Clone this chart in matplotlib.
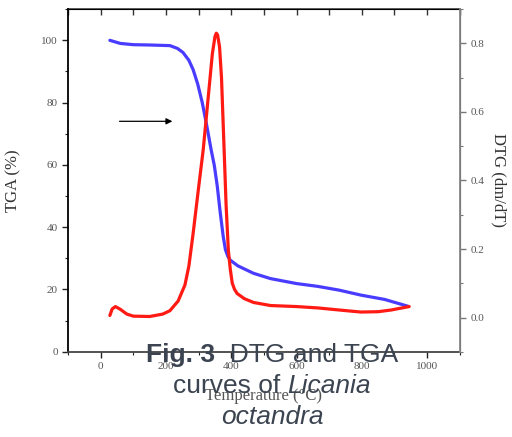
import matplotlib
matplotlib.use("Agg")
import matplotlib.pyplot as plt
from matplotlib.ticker import MultipleLocator, FormatStrFormatter

# TGA curve (left axis, %)
tga_temp = [28, 60, 100, 150, 212, 235, 252, 270, 283, 297, 311, 325, 338,
            348, 357, 366, 375, 382, 390, 397, 420, 468, 520, 600, 665, 730,
            797, 870, 942]
tga_mass = [100.0, 99.0, 98.6, 98.5, 98.3, 97.4, 96.1, 93.6, 90.6, 86.0,
            80.0, 72.5, 65.0, 59.8, 53.2, 44.8, 37.2, 32.8, 30.5, 29.4, 27.6,
            25.2, 23.5, 21.9, 21.0, 19.8, 18.2, 16.8, 14.6]

# DTG curve (right axis, dm/dT)
dtg_temp = [28, 35, 45, 60, 80, 100, 150, 190, 212, 237, 258, 270, 283, 298,
            314, 332, 342, 350, 354, 358, 364, 370, 378, 384, 391, 397, 403,
            410, 418, 440, 468, 520, 600, 665, 730, 797, 850, 890, 945]
dtg_vals = [0.006, 0.025, 0.032, 0.024, 0.010, 0.004, 0.003, 0.010, 0.020,
            0.048, 0.095, 0.150, 0.245, 0.365, 0.49, 0.67, 0.77, 0.82, 0.83,
            0.825, 0.79, 0.70, 0.49, 0.33, 0.196, 0.14, 0.100, 0.082, 0.070,
            0.055, 0.044, 0.035, 0.032, 0.028, 0.022, 0.016, 0.017, 0.022,
            0.032]

arrow_start = (49, 74)
arrow_end = (228, 74)

serif = "Liberation Serif"
tick_col = "#555555"

fig = plt.figure(figsize=(5.12, 4.37), dpi=100)
ax = fig.add_axes([0.133, 0.195, 0.765, 0.784])
ax2 = ax.twinx()

ax.plot(tga_temp, tga_mass, color="#4a3cff", lw=2.3, solid_capstyle="round")
ax2.plot(dtg_temp, dtg_vals, color="#ff1a14", lw=2.3, solid_capstyle="round")

ax.annotate("", xy=arrow_end, xytext=arrow_start,
            arrowprops=dict(arrowstyle="-|>", color="black", lw=0.9,
                            mutation_scale=9))

ax.set_xlim(-100, 1100)
ax.set_ylim(0, 110)
ax2.set_ylim(-0.1, 0.9)

ax.xaxis.set_major_locator(MultipleLocator(200))
ax.xaxis.set_minor_locator(MultipleLocator(100))
ax.yaxis.set_major_locator(MultipleLocator(20))
ax.yaxis.set_minor_locator(MultipleLocator(10))
ax2.yaxis.set_major_locator(MultipleLocator(0.2))
ax2.yaxis.set_minor_locator(MultipleLocator(0.1))
ax2.yaxis.set_major_formatter(FormatStrFormatter("%.1f"))

ax.tick_params(which="both", direction="out", colors="#222222",
               labelcolor=tick_col, labelsize=8)
ax.tick_params(which="major", length=4, width=1)
ax.tick_params(which="minor", length=2.5, width=0.8)
ax2.tick_params(which="both", direction="out", colors="#777777",
                labelcolor=tick_col, labelsize=8)
ax2.tick_params(which="major", length=4, width=1)
ax2.tick_params(which="minor", length=2.5, width=0.8)

# ticks along the top, pointing inward
top = ax.secondary_xaxis("top")
top.xaxis.set_major_locator(MultipleLocator(100))
top.tick_params(direction="in", length=4, width=1, labeltop=False,
                colors="#333333")

for lab in ax.get_xticklabels() + ax.get_yticklabels() + ax2.get_yticklabels():
    lab.set_family(serif)

ax.spines["left"].set_color("black")
ax.spines["left"].set_linewidth(1.3)
ax.spines["bottom"].set_color("#444444")
ax.spines["bottom"].set_linewidth(1.3)
ax2.spines["right"].set_color("#888888")
ax2.spines["right"].set_linewidth(1.3)
top.spines["top"].set_color("#333333")
top.spines["top"].set_linewidth(1.1)
for s in ["top", "left", "bottom"]:
    ax2.spines[s].set_visible(False)

ax.set_ylabel("TGA (%)", family=serif, fontsize=12, color="#333333", labelpad=14)
ax2.set_ylabel("DTG (dm/dT)", family=serif, fontsize=12, color="#333333",
               rotation=270, labelpad=16)
ax.set_xlabel("Temperature (°C)", family=serif, fontsize=12, color="#555555",
              labelpad=12)

# caption drawn over the lower part of the chart
cap_col = "#3b4450"
cap_lines = [
    [("Fig. 3", "normal", "bold"), ("  DTG and TGA", "normal", "normal")],
    [("curves of ", "normal", "normal"), ("Licania", "italic", "normal")],
    [("octandra", "italic", "normal")],
]
cap_baselines = [362, 393, 424]
cap_center = 272

renderer = fig.canvas.get_renderer()
W, H = fig.get_size_inches() * fig.dpi
for line, base in zip(cap_lines, cap_baselines):
    parts = []
    for txt, style, weight in line:
        t = fig.text(0, 1 - base / H, txt, family="Liberation Sans", fontsize=19,
                     style=style, weight=weight, color=cap_col, va="baseline",
                     ha="left")
        parts.append(t)
    widths = [p.get_window_extent(renderer).width for p in parts]
    x = cap_center - sum(widths) / 2
    for p, w in zip(parts, widths):
        p.set_x(x / W)
        x += w

fig.savefig("out.png", dpi=100)
